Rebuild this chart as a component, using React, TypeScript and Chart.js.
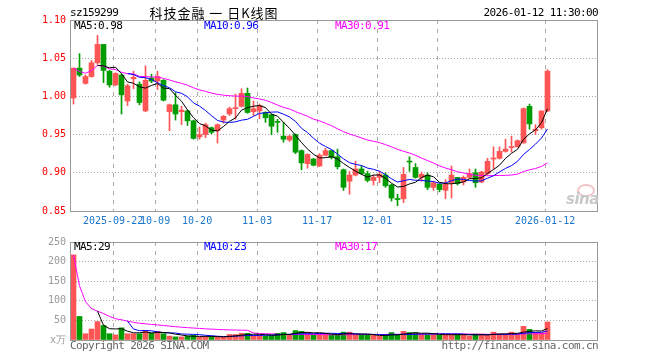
import React, { useEffect, useRef } from "react";
import { Chart, registerables } from "chart.js";

Chart.register(...registerables);

// ---------------- DATA ----------------
const dates: string[] = [
  "2025-09-11", "2025-09-12", "2025-09-15", "2025-09-16", "2025-09-17", "2025-09-18", "2025-09-19",
  "2025-09-22", "2025-09-23", "2025-09-24", "2025-09-25", "2025-09-26", "2025-09-29", "2025-09-30",
  "2025-10-09", "2025-10-10", "2025-10-13", "2025-10-14", "2025-10-15", "2025-10-16", "2025-10-17",
  "2025-10-20", "2025-10-21", "2025-10-22", "2025-10-23", "2025-10-24", "2025-10-27", "2025-10-28",
  "2025-10-29", "2025-10-30", "2025-10-31", "2025-11-03", "2025-11-04", "2025-11-05", "2025-11-06",
  "2025-11-07", "2025-11-10", "2025-11-11", "2025-11-12", "2025-11-13", "2025-11-14", "2025-11-17",
  "2025-11-18", "2025-11-19", "2025-11-20", "2025-11-21", "2025-11-24", "2025-11-25", "2025-11-26",
  "2025-11-27", "2025-11-28", "2025-12-01", "2025-12-02", "2025-12-03", "2025-12-04", "2025-12-05",
  "2025-12-08", "2025-12-09", "2025-12-10", "2025-12-11", "2025-12-12", "2025-12-15", "2025-12-16",
  "2025-12-17", "2025-12-18", "2025-12-19", "2025-12-22", "2025-12-23", "2025-12-24", "2025-12-25",
  "2025-12-26", "2025-12-29", "2025-12-30", "2025-12-31", "2026-01-05", "2026-01-06", "2026-01-07",
  "2026-01-08", "2026-01-09", "2026-01-12",
];

const opens: number[] = [
  0.998, 1.037, 1.017, 1.026, 1.044, 1.068, 1.033, 1.015, 1.028, 0.994,
  1.023, 1.016, 0.981, 1.024, 1.020, 1.021, 0.980, 0.989, 0.980, 0.981,
  0.968, 0.947, 0.950, 0.959, 0.955, 0.969, 0.977, 0.984, 0.987, 1.004,
  0.980, 0.981, 0.979, 0.976, 0.967, 0.948, 0.943, 0.950, 0.929, 0.912,
  0.918, 0.909, 0.923, 0.929, 0.921, 0.904, 0.889, 0.897, 0.905, 0.899,
  0.890, 0.894, 0.897, 0.884, 0.866, 0.866, 0.915, 0.907, 0.894, 0.897,
  0.881, 0.885, 0.877, 0.887, 0.894, 0.888, 0.894, 0.900, 0.888, 0.899,
  0.918, 0.919, 0.928, 0.933, 0.934, 0.939, 0.987, 0.955, 0.959, 0.981,
];
const highs: number[] = [
  1.037, 1.056, 1.028, 1.047, 1.080, 1.068, 1.034, 1.031, 1.029, 1.016,
  1.033, 1.019, 1.040, 1.029, 1.033, 1.022, 0.990, 1.005, 0.987, 0.982,
  0.969, 0.960, 0.965, 0.960, 0.964, 0.975, 0.986, 1.003, 1.010, 1.011,
  0.994, 0.990, 0.980, 0.977, 0.970, 0.966, 0.949, 0.951, 0.930, 0.925,
  0.919, 0.925, 0.932, 0.930, 0.931, 0.905, 0.902, 0.915, 0.909, 0.902,
  0.897, 0.902, 0.900, 0.885, 0.872, 0.907, 0.921, 0.912, 0.901, 0.900,
  0.889, 0.886, 0.891, 0.909, 0.894, 0.896, 0.905, 0.905, 0.902, 0.919,
  0.934, 0.934, 0.944, 0.948, 0.943, 0.985, 0.990, 0.963, 0.981, 1.035,
];
const lows: number[] = [
  0.990, 1.026, 1.016, 1.025, 1.042, 1.018, 1.012, 1.014, 0.977, 0.988,
  1.010, 0.989, 0.980, 1.018, 1.009, 0.994, 0.955, 0.969, 0.963, 0.962,
  0.944, 0.944, 0.946, 0.951, 0.939, 0.965, 0.975, 0.970, 0.986, 0.978,
  0.975, 0.971, 0.966, 0.950, 0.953, 0.940, 0.941, 0.925, 0.904, 0.906,
  0.909, 0.908, 0.922, 0.918, 0.905, 0.877, 0.872, 0.896, 0.898, 0.888,
  0.884, 0.887, 0.881, 0.863, 0.857, 0.861, 0.902, 0.893, 0.889, 0.878,
  0.877, 0.875, 0.866, 0.867, 0.884, 0.884, 0.892, 0.881, 0.887, 0.897,
  0.905, 0.918, 0.927, 0.927, 0.934, 0.939, 0.957, 0.950, 0.957, 0.980,
];
const closes: number[] = [
  1.037, 1.028, 1.026, 1.044, 1.068, 1.034, 1.015, 1.030, 1.002, 1.014,
  1.025, 0.992, 1.021, 1.020, 1.026, 0.995, 0.989, 0.977, 0.982, 0.968,
  0.945, 0.950, 0.963, 0.953, 0.963, 0.974, 0.984, 0.985, 1.004, 0.979,
  0.984, 0.988, 0.972, 0.961, 0.966, 0.944, 0.948, 0.927, 0.913, 0.924,
  0.910, 0.923, 0.929, 0.920, 0.908, 0.881, 0.897, 0.905, 0.899, 0.890,
  0.894, 0.898, 0.883, 0.867, 0.865, 0.898, 0.914, 0.894, 0.898, 0.881,
  0.887, 0.878, 0.885, 0.897, 0.886, 0.894, 0.899, 0.887, 0.901, 0.915,
  0.919, 0.928, 0.931, 0.934, 0.942, 0.984, 0.964, 0.957, 0.981, 1.033,
];
// volume, in 10k (万) units
const volumes: number[] = [
  217, 60, 16, 28, 47, 37, 16, 13, 31, 16,
  16, 16, 24, 18, 22, 16, 10, 8, 8, 10,
  12, 8, 8, 8, 8, 8, 14, 14, 17, 17,
  12, 12, 10, 12, 17, 19, 14, 24, 22, 19,
  12, 16, 16, 12, 12, 20, 20, 12, 12, 12,
  12, 10, 12, 19, 12, 22, 19, 19, 14, 14,
  14, 12, 14, 14, 14, 14, 10, 15, 15, 12,
  20, 15, 15, 20, 15, 35, 27, 19, 19, 46,
];

const xTickDates: string[] = [
  "2025-09-22", "2025-10-09", "2025-10-20", "2025-11-03",
  "2025-11-17", "2025-12-01", "2025-12-15", "2026-01-12",
];
const xTickLabels: string[] = [
  "2025-09-22", "10-09", "10-20", "11-03", "11-17", "12-01", "12-15", "2026-01-12",
];
const priceTicks: number[] = [0.85, 0.9, 0.95, 1.0, 1.05, 1.1];
const volumeTicks: number[] = [0, 50, 100, 150, 200, 250];
const volumeTickLabels: string[] = ["x万", "50", "100", "150", "200", "250"];

const symbolText = "sz159299";
const titleText = "科技金融 一 日K线图";
const timeText = "2026-01-12 11:30:00";

// ---------------- STYLE ----------------
const UP = "#ff5555";
const DOWN = "#009c00";
const MA5_COLOR = "#000000";
const MA10_COLOR = "#0000ff";
const MA30_COLOR = "#ff00ff";
const GRID = "#aaaaaa";
const FRAME = "#999999";
const MONO = '"DejaVu Sans Mono", "Liberation Mono", monospace';
const X_MIN = -0.5833;
const X_MAX = 87.25;

function movingAverage(values: number[], n: number, expanding: boolean): (number | null)[] {
  return values.map((_, i) => {
    if (i < n - 1 && !expanding) return null;
    const start = Math.max(0, i - n + 1);
    const win = values.slice(start, i + 1);
    return win.reduce((a, b) => a + b, 0) / win.length;
  });
}

const tickIndex = xTickDates.map((d) => dates.indexOf(d));
const dirColors = closes.map((c, i) => (c >= opens[i] ? UP : DOWN));

const pMA5 = movingAverage(closes, 5, false);
const pMA10 = movingAverage(closes, 10, false);
const pMA30 = movingAverage(closes, 30, true);
const vMA5 = movingAverage(volumes, 5, false);
const vMA10 = movingAverage(volumes, 10, false);
const vMA30 = movingAverage(volumes, 30, true);

const lastOf = (a: (number | null)[]) => a[a.length - 1] as number;

const framePlugin = {
  id: "frame",
  afterDatasetsDraw(chart: any) {
    const { ctx, chartArea } = chart;
    const { left, top, right, bottom } = chartArea;
    ctx.save();
    ctx.strokeStyle = FRAME;
    ctx.lineWidth = 1;
    ctx.setLineDash([]);
    ctx.strokeRect(left + 0.5, top + 0.5, right - left, bottom - top);
    ctx.restore();
  },
};

function xAxis(showLabels: boolean, height: number) {
  return {
    type: "linear",
    min: X_MIN,
    max: X_MAX,
    offset: false,
    afterBuildTicks: (s: any) => {
      s.ticks = tickIndex.map((i) => ({ value: i - 0.4 }));
    },
    afterFit: (s: any) => {
      s.height = height;
    },
    ticks: {
      display: showLabels,
      autoSkip: false,
      maxRotation: 0,
      minRotation: 0,
      padding: 4,
      color: "#1a75cc",
      font: { family: MONO, size: 10 },
      callback: (_v: any, i: number) => xTickLabels[i],
    },
    grid: { color: GRID, lineWidth: 1, drawTicks: false, offset: false },
    border: { display: false, dash: [4, 5] },
  };
}

function lineDs(values: (number | null)[], color: string) {
  return {
    type: "line",
    data: values.map((v, i) => ({ x: i, y: v })),
    borderColor: color,
    borderWidth: 1,
    pointRadius: 0,
    tension: 0,
    fill: false,
    order: 0,
  };
}

function PriceChart() {
  const ref = useRef<HTMLCanvasElement | null>(null);
  useEffect(() => {
    if (!ref.current) return;
    const chart = new Chart(ref.current, {
      type: "bar",
      data: {
        datasets: [
          lineDs(pMA5, MA5_COLOR),
          lineDs(pMA10, MA10_COLOR),
          lineDs(pMA30, MA30_COLOR),
          {
            type: "bar",
            data: opens.map((o, i) => ({ x: i, y: [o, closes[i]] })),
            backgroundColor: dirColors,
            barThickness: 5,
            grouped: false,
            minBarLength: 1,
            borderWidth: 0,
            order: 1,
          },
          {
            type: "bar",
            data: lows.map((l, i) => ({ x: i, y: [l, highs[i]] })),
            backgroundColor: dirColors,
            barThickness: 1,
            grouped: false,
            minBarLength: 1,
            borderWidth: 0,
            order: 2,
          },
        ] as any,
      },
      options: {
        responsive: false,
        animation: false,
        events: [],
        layout: { padding: { left: 0, right: 63, top: 20, bottom: 0 } },
        plugins: { legend: { display: false }, tooltip: { enabled: false } },
        scales: {
          x: xAxis(true, 21) as any,
          y: {
            type: "linear",
            min: 0.85,
            max: 1.1,
            afterBuildTicks: (s: any) => {
              s.ticks = priceTicks.map((v) => ({ value: v }));
            },
            afterFit: (s: any) => {
              s.width = 70;
            },
            ticks: {
              color: "#ff0000",
              padding: 4,
              font: { family: MONO, size: 10 },
              callback: (v: any) => Number(v).toFixed(2),
            },
            grid: { color: GRID, lineWidth: 1, drawTicks: false },
            border: { display: false, dash: [1, 2] },
          } as any,
        },
      },
      plugins: [framePlugin],
    });
    return () => chart.destroy();
  }, []);
  return (
    <canvas
      ref={ref}
      width={660}
      height={232}
      style={{ position: "absolute", left: 0, top: 0, width: 660, height: 232 }}
    />
  );
}

function VolumeChart() {
  const ref = useRef<HTMLCanvasElement | null>(null);
  useEffect(() => {
    if (!ref.current) return;
    const chart = new Chart(ref.current, {
      type: "bar",
      data: {
        datasets: [
          lineDs(vMA5, MA5_COLOR),
          lineDs(vMA10, MA10_COLOR),
          lineDs(vMA30, MA30_COLOR),
          {
            type: "bar",
            data: volumes.map((v, i) => ({ x: i, y: v })),
            backgroundColor: dirColors,
            barThickness: 5,
            grouped: false,
            borderWidth: 0,
            order: 1,
          },
        ] as any,
      },
      options: {
        responsive: false,
        animation: false,
        events: [],
        layout: { padding: { left: 0, right: 63, top: 8, bottom: 0 } },
        plugins: { legend: { display: false }, tooltip: { enabled: false } },
        scales: {
          x: xAxis(false, 20) as any,
          y: {
            type: "linear",
            min: 0,
            max: 250,
            afterBuildTicks: (s: any) => {
              s.ticks = volumeTicks.map((v) => ({ value: v }));
            },
            afterFit: (s: any) => {
              s.width = 70;
            },
            ticks: {
              color: "#999999",
              padding: 4,
              font: { family: MONO, size: 10 },
              callback: (_v: any, i: number) => volumeTickLabels[i],
            },
            grid: { color: GRID, lineWidth: 1, drawTicks: false },
            border: { display: false, dash: [1, 2] },
          } as any,
        },
      },
      plugins: [framePlugin],
    });
    return () => chart.destroy();
  }, []);
  return (
    <canvas
      ref={ref}
      width={660}
      height={128}
      style={{ position: "absolute", left: 0, top: 232, width: 660, height: 128 }}
    />
  );
}

type LabelProps = {
  x: number;
  y: number;
  text: string;
  color?: string;
  align?: "left" | "right" | "center";
  size?: number;
  family?: string;
  spacing?: number;
  style?: React.CSSProperties;
};

function Label({ x, y, text, color = "#000", align = "left", size = 11, family = MONO, spacing = -0.6, style }: LabelProps) {
  const base: React.CSSProperties = {
    position: "absolute",
    top: y - 7,
    height: 14,
    lineHeight: "14px",
    fontFamily: family,
    fontSize: size,
    letterSpacing: spacing,
    color,
    whiteSpace: "pre",
    zIndex: 2,
  };
  if (align === "left") base.left = x;
  if (align === "right") base.right = 660 - x;
  if (align === "center") {
    base.left = x;
    base.transform = "translateX(-50%)";
  }
  return <span style={{ ...base, ...style }}>{text}</span>;
}

export default function App() {
  return (
    <div
      style={{
        position: "absolute",
        left: 0,
        top: 0,
        width: 660,
        height: 360,
        background: "#ffffff",
        overflow: "hidden",
      }}
    >
      <PriceChart />
      <VolumeChart />
      <Label x={70} y={13} text={symbolText} />
      <Label
        x={214}
        y={13}
        text={titleText}
        align="center"
        size={13}
        spacing={1}
        family='"Noto Sans CJK SC", sans-serif'
      />
      <Label x={598} y={13} text={timeText} align="right" />

      <Label x={74} y={26} text={`MA5:${lastOf(pMA5).toFixed(2)}`} color={MA5_COLOR} />
      <Label x={204} y={26} text={`MA10:${lastOf(pMA10).toFixed(2)}`} color={MA10_COLOR} />
      <Label x={335} y={26} text={`MA30:${lastOf(pMA30).toFixed(2)}`} color={MA30_COLOR} />

      <Label x={74} y={247} text={`MA5:${Math.round(lastOf(vMA5))}`} color={MA5_COLOR} />
      <Label x={204} y={247} text={`MA10:${Math.round(lastOf(vMA10))}`} color={MA10_COLOR} />
      <Label x={335} y={247} text={`MA30:${Math.round(lastOf(vMA30))}`} color={MA30_COLOR} />

      <Label x={70} y={346} text="Copyright 2026 SINA.COM" color="#666666" />
      <Label x={598} y={346} text="http://finance.sina.com.cn" color="#666666" align="right" />

      <div
        style={{
          position: "absolute",
          left: 577,
          top: 184,
          width: 14,
          height: 9,
          borderRadius: "50%",
          border: "2px solid #f3c4c4",
          zIndex: 2,
        }}
      />
      <Label
        x={566}
        y={199}
        text="sina"
        color="#c9c9c9"
        size={15}
        spacing={-0.5}
        family='"DejaVu Sans", sans-serif'
        style={{ fontWeight: 700, fontStyle: "italic" }}
      />
    </div>
  );
}
